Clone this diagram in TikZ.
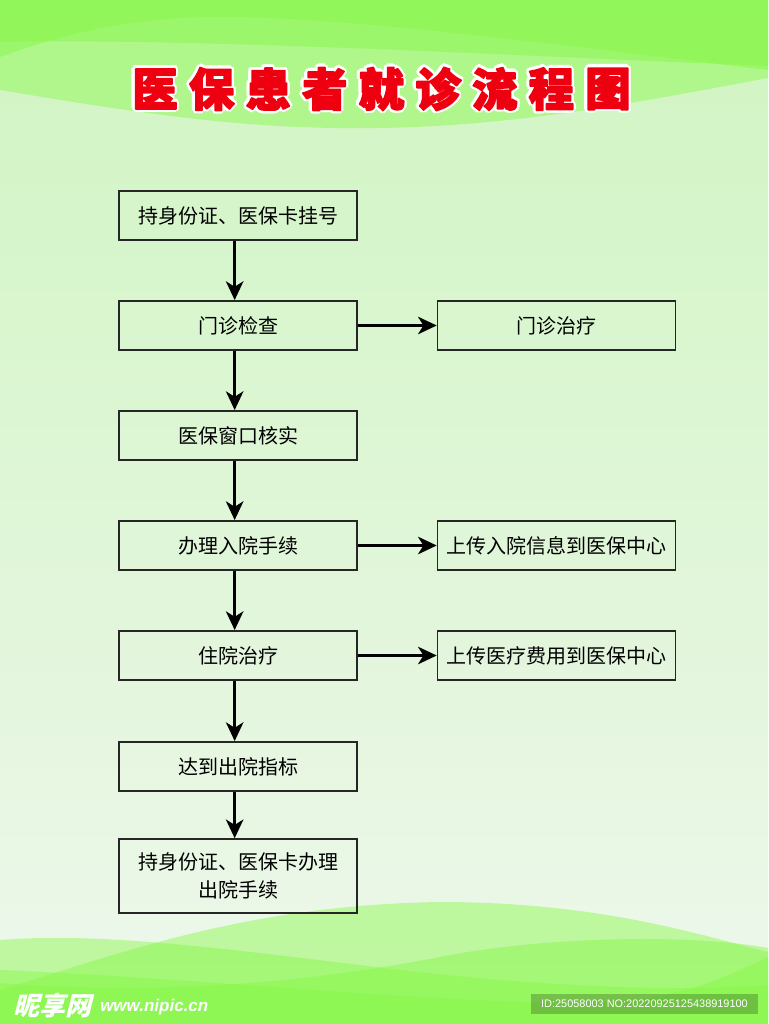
\documentclass[tikz,border=0pt]{standalone}
\usepackage{fontspec}
\setmainfont{Liberation Sans}
\newfontfamily\cjk{Noto Sans CJK SC}
\newfontfamily\markfont{Noto Sans CJK SC}[FakeSlant=0.25]
\usetikzlibrary{arrows.meta,calc}
\definecolor{bgtop}{RGB}{208,245,194}
\definecolor{bgbottom}{RGB}{238,247,236}
\definecolor{wavegreen}{RGB}{134,248,70}
\definecolor{titlered}{RGB}{238,0,16}
% heavier red body for the title
\newcommand\heavytext[1]{%
  \special{pdf:literal direct 0.933 0 0.063 RG 1.2 w 1 j 2 Tr}#1\special{pdf:literal direct 0 Tr}}
\tikzset{%
  stepbox/.style   = {shape=rectangle, draw=black!85, line width=1.1pt,%
                      minimum width=178.5pt, minimum height=37pt,%
                      inner sep=0pt, align=center,%
                      font=\cjk\fontsize{15pt}{21pt}\selectfont},%
  flow/.style      = {line width=2.6pt, -{Stealth[length=14pt, width=13pt, inset=4pt]}},%
  wave/.style      = {fill=wavegreen, opacity=.45},%
  titletext/.style = {inner sep=0pt, text=titlered,%
                      font=\cjk\bfseries\fontsize{34pt}{40pt}\selectfont},%
  titlehalo/.style = {titletext, text=white}%
}

\begin{document}
\begin{tikzpicture}[x=0.75pt,y=-0.75pt]
	\useasboundingbox (0,0) rectangle (768,1024);
	\shade[top color=bgtop, bottom color=bgbottom] (0,0) rectangle (768,1024);
	% waves on top
	\fill[wave] (0,0) -- (0,90) .. controls (150,115) and (250,130) .. (380,128)
		.. controls (520,126) and (650,100) .. (768,78) -- (768,0) -- cycle;
	\fill[wave] (0,0) -- (0,57) .. controls (60,35) and (120,20) .. (200,17)
		.. controls (330,14) and (560,45) .. (768,70) -- (768,0) -- cycle;
	\fill[wave] (0,0) -- (0,42) .. controls (200,38) and (500,55) .. (768,66) -- (768,0) -- cycle;
	% waves at the bottom
	\fill[wave] (0,940) .. controls (100,932) and (220,948) .. (384,968)
		.. controls (540,987) and (680,992) .. (768,985) -- (768,1024) -- (0,1024) -- cycle;
	\fill[wave] (0,990) .. controls (130,950) and (250,905) .. (440,902)
		.. controls (600,902) and (700,935) .. (768,952) -- (768,1024) -- (0,1024) -- cycle;
	\fill[wave] (0,983) .. controls (150,995) and (300,985) .. (450,955)
		.. controls (560,935) and (700,935) .. (768,948) -- (768,1024) -- (0,1024) -- cycle;
	\fill[wave] (0,970) .. controls (200,978) and (450,1005) .. (600,1003)
		.. controls (680,1000) and (730,975) .. (768,957) -- (768,1024) -- (0,1024) -- cycle;

	% title with white outline
	\foreach \ch [count=\i] in {医,保,患,者,就,诊,流,程,图} {
		\foreach \a in {0,30,...,330}
			\node[titlehalo] (halo\i-\a) at ($(98.5+56.6*\i,89)+(\a:3.5)$) {\ch};
		\node[titletext] (title\i) at (98.5+56.6*\i,89) {\heavytext{\ch}};
	}

	\node[stepbox] (reg)    at (238,215.5) {持身份证、医保卡挂号};
	\node[stepbox] (check)  at (238,325.5) {门诊检查};
	\node[stepbox] (verify) at (238,435.5) {医保窗口核实};
	\node[stepbox] (admit)  at (238,545.5) {办理入院手续};
	\node[stepbox] (stay)   at (238,655.5) {住院治疗};
	\node[stepbox] (ready)  at (238,766.5) {达到出院指标};
	\node[stepbox, minimum height=55.5pt] (leave) at (238,876) {持身份证、医保卡办理\\出院手续};

	\node[stepbox] (treat)  at (556.5,325.5) {门诊治疗};
	\node[stepbox] (upload) at (556.5,545.5) {上传入院信息到医保中心};
	\node[stepbox] (fees)   at (556.5,655.5) {上传医疗费用到医保中心};

	\draw[flow] ([xshift=-2.5pt]reg.south) -- ([xshift=-2.5pt]check.north);
	\draw[flow] ([xshift=-2.5pt]check.south) -- ([xshift=-2.5pt]verify.north);
	\draw[flow] ([xshift=-2.5pt]verify.south) -- ([xshift=-2.5pt]admit.north);
	\draw[flow] ([xshift=-2.5pt]admit.south) -- ([xshift=-2.5pt]stay.north);
	\draw[flow] ([xshift=-2.5pt]stay.south) -- ([xshift=-2.5pt]ready.north);
	\draw[flow] ([xshift=-2.5pt]ready.south) -- ([xshift=-2.5pt]leave.north);
	\draw[flow] (check) -- (treat);
	\draw[flow] (admit) -- (upload);
	\draw[flow] (stay) -- (fees);

	% site marks
	\node[anchor=west, inner sep=0pt, text=white, font=\markfont\bfseries\fontsize{19.5pt}{22pt}\selectfont]
		(markcn) at (13,1006) {昵享网};
	\node[anchor=west, inner sep=0pt, text=white, font=\bfseries\itshape\fontsize{12.75pt}{15pt}\selectfont]
		(markweb) at (100,1007) {www.nipic.cn};
	\node[fill=black, fill opacity=.22, text opacity=1, text=white, inner sep=0pt,
		minimum width=170pt, minimum height=15pt, font=\fontsize{8.2pt}{10pt}\selectfont]
		(idtag) at (644.5,1004) {ID:25058003 NO:20220925125438919100};
\end{tikzpicture}
\end{document}
